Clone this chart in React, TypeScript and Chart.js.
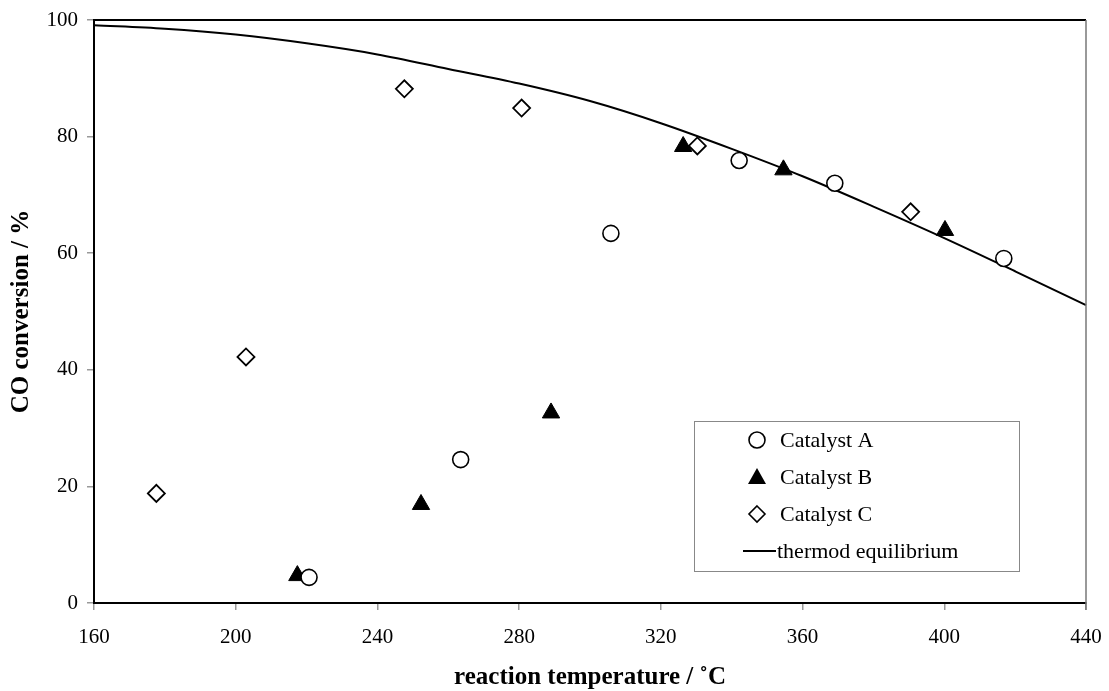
import React, { useEffect, useRef } from "react";
import { Chart, registerables } from "chart.js";

Chart.register(...registerables);

// ---- data ----
const catalystA_T = [220.7, 263.5, 305.9, 342.1, 369.1, 416.8];
const catalystA_Y = [4.4, 24.6, 63.4, 75.9, 72.0, 59.1];

const catalystB_T = [217.4, 252.3, 289.0, 326.3, 354.6, 400.2];
const catalystB_Y = [4.7, 16.9, 32.6, 78.3, 74.3, 63.9];

const catalystC_T = [177.6, 202.9, 247.6, 280.7, 330.3, 390.5];
const catalystC_Y = [18.8, 42.2, 88.2, 84.9, 78.4, 67.1];

const equilibrium_T = [160, 180, 200, 220, 240, 260, 280, 300, 320, 340, 360, 380, 400, 420, 440, 442];
const equilibrium_Y = [99.1, 98.5, 97.5, 96.0, 94.1, 91.6, 89.1, 86.1, 82.3, 77.9, 73.2, 68.0, 62.6, 56.9, 51.1, 50.5];

const xTicks = [160, 200, 240, 280, 320, 360, 400, 440];
const yTicks = [0, 20, 40, 60, 80, 100];

const legendLabels = ["Catalyst A", "Catalyst B", "Catalyst C", "thermod equilibrium"];

const xTitle = "reaction temperature / ˚C";
const yTitle = "CO conversion / %";

const SERIF = "'Liberation Serif', 'DejaVu Serif', serif";

const pts = (xs: number[], ys: number[]) => xs.map((x, i) => ({ x, y: ys[i] }));

const framePlugin = {
  id: "frameAndLegend",
  afterDraw(chart: any) {
    const { ctx, chartArea } = chart;
    const { left, right, top, bottom } = chartArea;
    ctx.save();
    // top border
    ctx.strokeStyle = "#000";
    ctx.lineWidth = 2;
    ctx.beginPath();
    ctx.moveTo(left - 1, top);
    ctx.lineTo(right, top);
    ctx.stroke();
    // right border (grey)
    ctx.strokeStyle = "#777";
    ctx.lineWidth = 1.5;
    ctx.beginPath();
    ctx.moveTo(right, top);
    ctx.lineTo(right, bottom + 7);
    ctx.stroke();

    // legend
    const bx = 694, by = 421, bw = 325, bh = 150;
    ctx.fillStyle = "#fff";
    ctx.fillRect(bx, by, bw, bh);
    ctx.strokeStyle = "#888";
    ctx.lineWidth = 1;
    ctx.strokeRect(bx + 0.5, by + 0.5, bw, bh);

    const mx = 757;
    const tx = 780;
    const rows = [440, 477, 514, 551];
    ctx.font = `22px ${SERIF}`;
    ctx.textBaseline = "middle";
    ctx.textAlign = "left";
    ctx.fillStyle = "#000";
    ctx.strokeStyle = "#000";
    ctx.lineWidth = 1.6;

    // circle
    ctx.beginPath();
    ctx.arc(mx, rows[0], 8, 0, Math.PI * 2);
    ctx.fillStyle = "#fff";
    ctx.fill();
    ctx.stroke();
    // triangle
    ctx.beginPath();
    ctx.moveTo(mx, rows[1] - 9);
    ctx.lineTo(mx + 9, rows[1] + 7);
    ctx.lineTo(mx - 9, rows[1] + 7);
    ctx.closePath();
    ctx.fillStyle = "#000";
    ctx.fill();
    // diamond
    ctx.beginPath();
    ctx.moveTo(mx, rows[2] - 8);
    ctx.lineTo(mx + 8, rows[2]);
    ctx.lineTo(mx, rows[2] + 8);
    ctx.lineTo(mx - 8, rows[2]);
    ctx.closePath();
    ctx.fillStyle = "#fff";
    ctx.fill();
    ctx.stroke();
    // line
    ctx.lineWidth = 2;
    ctx.beginPath();
    ctx.moveTo(743, rows[3]);
    ctx.lineTo(776, rows[3]);
    ctx.stroke();

    ctx.fillStyle = "#000";
    ctx.fillText(legendLabels[0], tx, rows[0] + 1);
    ctx.fillText(legendLabels[1], tx, rows[1] + 1);
    ctx.fillText(legendLabels[2], tx, rows[2] + 1);
    ctx.fillText(legendLabels[3], tx - 3, rows[3] + 1);
    ctx.restore();
  },
};

export default function App() {
  const canvasRef = useRef<HTMLCanvasElement | null>(null);

  useEffect(() => {
    if (!canvasRef.current) return;
    const chart = new Chart(canvasRef.current, {
      type: "scatter",
      data: {
        datasets: [
          {
            label: legendLabels[3],
            data: pts(equilibrium_T, equilibrium_Y),
            showLine: true,
            borderColor: "#000",
            borderWidth: 2,
            pointRadius: 0,
            cubicInterpolationMode: "monotone",
            clip: false,
            order: 4,
          } as any,
          {
            label: legendLabels[1],
            data: pts(catalystB_T, catalystB_Y),
            pointStyle: "triangle",
            pointRadius: 10,
            backgroundColor: "#000",
            borderColor: "#000",
            borderWidth: 1,
            order: 3,
          },
          {
            label: legendLabels[0],
            data: pts(catalystA_T, catalystA_Y),
            pointStyle: "circle",
            pointRadius: 8,
            backgroundColor: "#fff",
            borderColor: "#000",
            borderWidth: 1.6,
            order: 2,
          },
          {
            label: legendLabels[2],
            data: pts(catalystC_T, catalystC_Y),
            pointStyle: "rectRot",
            pointRadius: 8.5,
            backgroundColor: "#fff",
            borderColor: "#000",
            borderWidth: 1.8,
            order: 1,
          },
        ],
      },
      options: {
        animation: false,
        responsive: false,
        maintainAspectRatio: false,
        layout: { padding: { left: 0, top: 20, right: 23, bottom: 0 } },
        plugins: {
          legend: { display: false },
          tooltip: { enabled: false },
        },
        scales: {
          x: {
            type: "linear",
            min: 160,
            max: 440,
            afterBuildTicks: (scale: any) => {
              scale.ticks = xTicks.map((v) => ({ value: v }));
            },
            afterFit: (scale: any) => {
              scale.height = 88;
              scale.paddingLeft = 0;
              scale.paddingRight = 0;
            },
            ticks: {
              color: "#000",
              font: { family: SERIF, size: 21 },
              padding: 15,
              maxRotation: 0,
              autoSkip: false,
            },
            grid: {
              drawOnChartArea: false,
              drawTicks: true,
              tickLength: 7,
              color: "#999",
              lineWidth: 1.5,
            },
            border: { display: true, color: "#000", width: 2 },
            title: {
              display: true,
              text: xTitle,
              color: "#000",
              font: { family: SERIF, size: 25, weight: "bold", lineHeight: 1.05 },
              padding: { top: 0, bottom: 0 },
            },
          },
          y: {
            type: "linear",
            min: 0,
            max: 100,
            afterBuildTicks: (scale: any) => {
              scale.ticks = yTicks.map((v) => ({ value: v }));
            },
            afterFit: (scale: any) => {
              scale.width = 94;
              scale.paddingTop = 0;
              scale.paddingBottom = 0;
            },
            ticks: {
              color: "#000",
              font: { family: SERIF, size: 21 },
              padding: 9,
            },
            grid: {
              drawOnChartArea: false,
              drawTicks: true,
              tickLength: 7,
              color: "#999",
              lineWidth: 1.5,
            },
            border: { display: true, color: "#000", width: 2 },
            title: {
              display: true,
              text: yTitle,
              color: "#000",
              font: { family: SERIF, size: 25, weight: "bold", lineHeight: 1.05 },
              padding: { top: 8, bottom: 0 },
            },
          },
        },
      },
      plugins: [framePlugin],
    });
    return () => chart.destroy();
  }, []);

  return (
    <div style={{ position: "fixed", left: 0, top: 0, width: 1109, height: 691, background: "#fff" }}>
      <canvas ref={canvasRef} width={1109} height={691} style={{ width: 1109, height: 691, display: "block" }} />
    </div>
  );
}
